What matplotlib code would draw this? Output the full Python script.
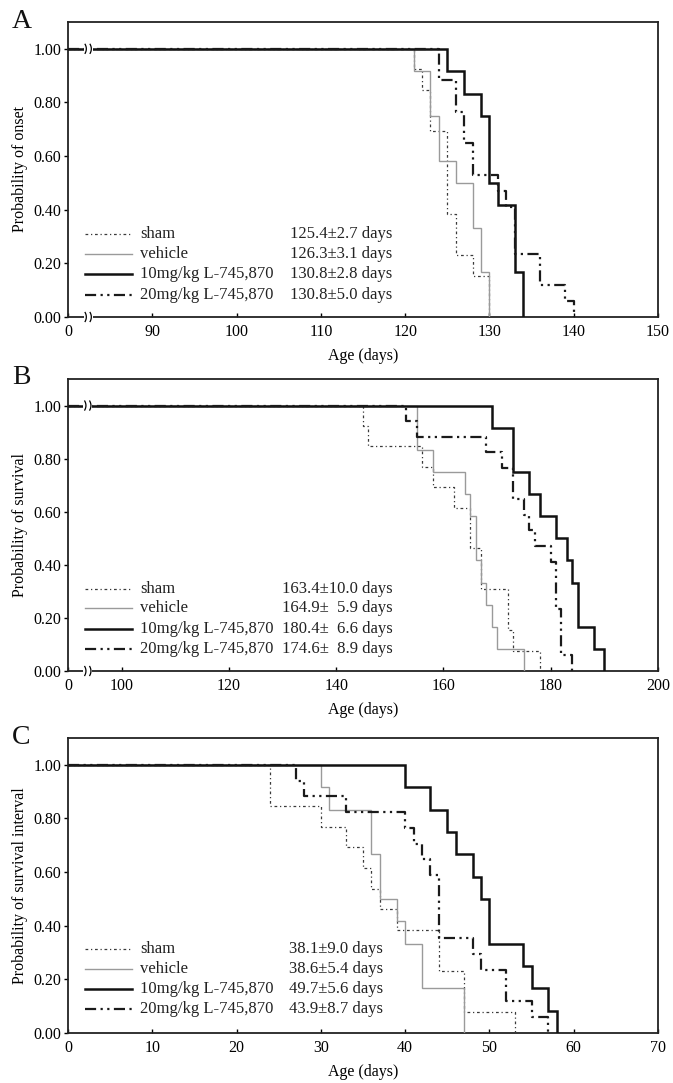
import numpy as np
import matplotlib
matplotlib.use('Agg')
import matplotlib.pyplot as plt
import matplotlib.transforms as mtransforms
from matplotlib.patches import Rectangle

plt.rcParams['font.family'] = ['Liberation Serif', 'DejaVu Serif']

# ---------------- data ----------------
group_labels = ['sham', 'vehicle', '10mg/kg L-745,870', '20mg/kg L-745,870']

# Panel A: onset -- event day and number of animals at that day
onset_sham_days = [121, 122, 123, 125, 126, 128, 130]
onset_sham_n = [1, 1, 2, 4, 2, 1, 2]
onset_vehicle_days = [121, 123, 124, 126, 128, 129, 130]
onset_vehicle_n = [1, 2, 2, 1, 2, 2, 2]
onset_10mg_days = [125, 127, 129, 130, 131, 133, 134]
onset_10mg_n = [1, 1, 1, 3, 1, 3, 2]
onset_20mg_days = [124, 126, 127, 128, 131, 132, 133, 136, 139, 140]
onset_20mg_n = [2, 2, 2, 2, 1, 1, 3, 2, 1, 1]
onset_stats = ['125.4\u00b12.7 days', '126.3\u00b13.1 days',
               '130.8\u00b12.8 days', '130.8\u00b15.0 days']

# Panel B: survival
surv_sham_days = [145, 146, 156, 158, 162, 165, 167, 172, 173, 178]
surv_sham_n = [1, 1, 1, 1, 1, 2, 2, 2, 1, 1]
surv_vehicle_days = [155, 158, 164, 165, 166, 167, 168, 169, 170, 175]
surv_vehicle_n = [2, 1, 1, 1, 2, 1, 1, 1, 1, 1]
surv_10mg_days = [169, 173, 176, 178, 181, 183, 184, 185, 188, 190]
surv_10mg_n = [1, 2, 1, 1, 1, 1, 1, 2, 1, 1]
surv_20mg_days = [153, 155, 168, 171, 173, 175, 176, 177, 180, 181, 182, 184]
surv_20mg_n = [1, 1, 1, 1, 2, 1, 1, 1, 1, 3, 3, 1]
surv_stats = ['163.4\u00b110.0 days', '164.9\u00b1  5.9 days',
              '180.4\u00b1  6.6 days', '174.6\u00b1  8.9 days']

# Panel C: survival interval
int_sham_days = [24, 30, 33, 35, 36, 37, 39, 44, 47, 53]
int_sham_n = [2, 1, 1, 1, 1, 1, 1, 2, 2, 1]
int_vehicle_days = [30, 31, 36, 37, 39, 40, 42, 47]
int_vehicle_n = [1, 1, 2, 2, 1, 1, 2, 2]
int_10mg_days = [40, 43, 45, 46, 48, 49, 50, 54, 55, 57, 58]
int_10mg_n = [1, 1, 1, 1, 1, 1, 2, 1, 1, 1, 1]
int_20mg_days = [27, 28, 33, 40, 41, 42, 43, 44, 48, 49, 52, 55, 57]
int_20mg_n = [1, 1, 1, 1, 1, 1, 1, 4, 1, 1, 2, 1, 1]
int_stats = ['38.1\u00b19.0 days', '38.6\u00b15.4 days',
             '49.7\u00b15.6 days', '43.9\u00b18.7 days']

# axis settings
a_ticks = [80, 90, 100, 110, 120, 130, 140, 150]
a_ticklabels = ['0', '90', '100', '110', '120', '130', '140', '150']
b_ticks = [90, 100, 120, 140, 160, 180, 200]
b_ticklabels = ['0', '100', '120', '140', '160', '180', '200']
c_ticks = [0, 10, 20, 30, 40, 50, 60, 70]
c_ticklabels = ['0', '10', '20', '30', '40', '50', '60', '70']
y_ticks = [0.0, 0.2, 0.4, 0.6, 0.8, 1.0]
y_ticklabels = ['0.00', '0.20', '0.40', '0.60', '0.80', '1.00']

# ---------------- styles ----------------
styles = [
    dict(color='#3a3a3a', lw=0.9, ls=(0, (2.2, 2.2, 1.0, 2.2))),          # sham
    dict(color='#9a9a9a', lw=1.0, ls='-'),                               # vehicle
    dict(color='#111111', lw=1.8, ls='-'),                               # 10mg
    dict(color='#1a1a1a', lw=1.6, ls=(0, (5.0, 2.0, 1.0, 2.0, 1.0, 2.0))),  # 20mg
]

W, H = 673, 1083
fig = plt.figure(figsize=(W / 100, H / 100), dpi=100)
FS = 11.5
LFS = 12


def axes_rect(l, r, t, b):
    return [l / W, 1 - b / H, (r - l) / W, (b - t) / H]


def km_curve(days, counts, x0):
    n = sum(counts)
    remaining = n - np.cumsum(counts)
    xs = [x0] + list(days)
    ys = [1.0] + list(remaining / n)
    return np.array(xs, float), np.array(ys, float)


def draw_break(ax, xd, yd):
    trans = fig.dpi_scale_trans + mtransforms.ScaledTranslation(xd, yd, ax.transData)
    ax.add_patch(Rectangle((-0.045, -0.03), 0.09, 0.06, transform=trans,
                           facecolor='white', edgecolor='none', zorder=10,
                           clip_on=False))
    t = np.linspace(-1, 1, 20)
    for off in (-0.025, 0.025):
        xs = off + 0.012 * (1 - t ** 2) - 0.006
        ys = 0.045 * t
        ax.plot(xs, ys, transform=trans, color='black', lw=0.9,
                zorder=11, clip_on=False)


def make_panel(rect, letter, letter_y, series, xlim, ticks, ticklabels,
               ylabel, stats, stats_x, leg_rows, break_x=None):
    ax = fig.add_axes(rect)
    for (days, counts), st in zip(series, styles):
        xs, ys = km_curve(days, counts, xlim[0])
        ax.step(xs, ys, where='post', color=st['color'], lw=st['lw'],
                ls=st['ls'], solid_joinstyle='miter', zorder=3)
    ax.set_xlim(*xlim)
    ax.set_ylim(0, 1.1)
    ax.set_xticks(ticks)
    ax.set_xticklabels(ticklabels)
    ax.set_yticks(y_ticks)
    ax.set_yticklabels(y_ticklabels)
    ax.tick_params(axis='x', direction='in', length=3, width=1,
                   labelsize=FS, pad=5)
    ax.tick_params(axis='y', direction='out', length=3, width=1,
                   labelsize=FS, pad=2)
    for sp in ax.spines.values():
        sp.set_linewidth(1.3)
        sp.set_color('#222222')
    ax.set_xlabel('Age (days)', fontsize=FS, labelpad=6)
    ax.set_ylabel(ylabel, fontsize=FS, labelpad=4)
    # legend drawn in axes coordinates
    for i, (lab, st, stat) in enumerate(zip(group_labels, styles, stats)):
        yy = leg_rows[i]
        ax.plot([0.029, 0.108], [yy, yy], transform=ax.transAxes,
                color=st['color'], lw=st['lw'], ls=st['ls'], zorder=4)
        ax.text(0.122, yy, lab, transform=ax.transAxes, fontsize=LFS,
                va='center', ha='left', color='#222222')
        ax.text(stats_x, yy, stat, transform=ax.transAxes, fontsize=LFS,
                va='center', ha='left', color='#222222')
    if break_x is not None:
        draw_break(ax, break_x, 1.0)
        draw_break(ax, break_x, 0.0)
    fig.text(12 / W, 1 - letter_y / H, letter, fontsize=20, ha='left',
             va='center', color='#111111')
    return ax


make_panel(axes_rect(68, 658, 22, 317), 'A', 22,
           [(onset_sham_days, onset_sham_n),
            (onset_vehicle_days, onset_vehicle_n),
            (onset_10mg_days, onset_10mg_n),
            (onset_20mg_days, onset_20mg_n)],
           (80, 150), a_ticks, a_ticklabels, 'Probability of onset',
           onset_stats, 0.376, [0.281, 0.214, 0.146, 0.075], break_x=82.4)

make_panel(axes_rect(68, 658, 379, 671), 'B', 378,
           [(surv_sham_days, surv_sham_n),
            (surv_vehicle_days, surv_vehicle_n),
            (surv_10mg_days, surv_10mg_n),
            (surv_20mg_days, surv_20mg_n)],
           (90, 200), b_ticks, b_ticklabels, 'Probability of survival',
           surv_stats, 0.363, [0.28, 0.215, 0.143, 0.075], break_x=93.7)

make_panel(axes_rect(68, 658, 738, 1033), 'C', 738,
           [(int_sham_days, int_sham_n),
            (int_vehicle_days, int_vehicle_n),
            (int_10mg_days, int_10mg_n),
            (int_20mg_days, int_20mg_n)],
           (0, 70), c_ticks, c_ticklabels, 'Probability of survival interval',
           int_stats, 0.375, [0.284, 0.218, 0.149, 0.081])

fig.savefig('out.png', dpi=100, facecolor='white')
